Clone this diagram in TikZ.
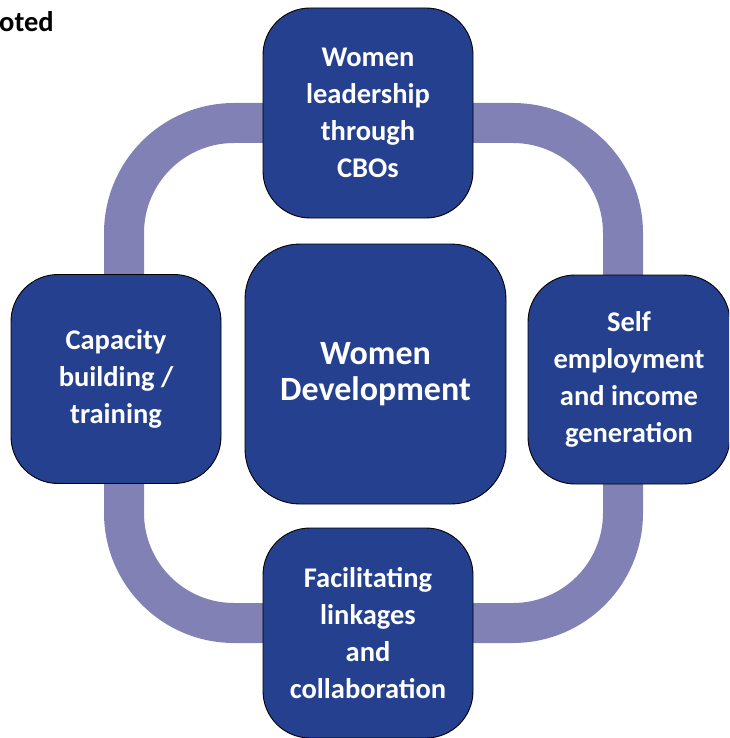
\documentclass[tikz,border=0pt]{standalone}
\usepackage{fontspec}
\setmainfont{Carlito}
\definecolor{boxblue}{RGB}{37,64,143}
\definecolor{ringc}{RGB}{129,129,181}
\begin{document}
\begin{tikzpicture}[x=1pt,y=-1pt,
  box/.style={draw=black, line width=0.9pt, fill=boxblue, rounded corners=47pt,
    minimum width=210pt, minimum height=210pt, text=white,
    font=\fontsize{28.5}{37}\selectfont\bfseries, align=center, inner sep=0pt},
  ring/.style={draw=ringc, line width=40pt, rounded corners=110pt}]
\useasboundingbox (0,0) rectangle (729,738);
\begin{scope}
\clip (0,0) rectangle (729,738);
% ring behind the boxes
\coordinate (ringNW) at (124,123);
\coordinate (ringSE) at (623,623);
\draw[ring] (ringNW) rectangle (ringSE);
\node[box] (top) at (368,113) {Women\\leadership\\through\\CBOs};
\node[box, minimum height=209pt] (left) at (116,379) {Capacity\\building /\\training};
\node[box, minimum width=202pt, minimum height=209pt] (right) at (629,379.5) {Self\\employment\\and income\\generation};
\node[box] (bottom) at (368,633) {Facilitating\\linkages\\and\\collaboration};
\node[box, minimum width=261pt, minimum height=260pt, rounded corners=55pt,
  font=\fontsize{34}{36}\selectfont\bfseries] (center) at (375.5,374) {Women\\Development};
\node[anchor=base west, inner sep=0pt, font=\fontsize{28.5}{30}\selectfont\bfseries] (title) at (-1,32) {oted};
\end{scope}
\end{tikzpicture}
\end{document}
